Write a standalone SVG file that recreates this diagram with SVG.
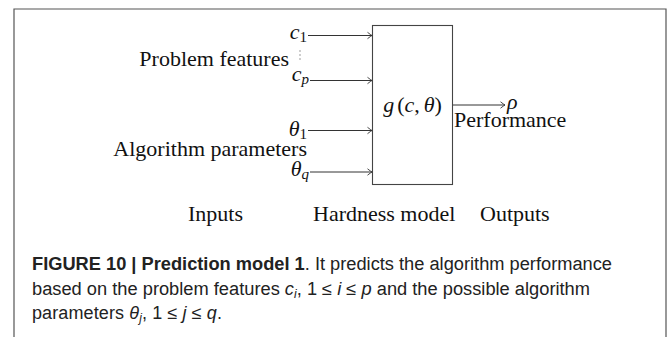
<svg xmlns="http://www.w3.org/2000/svg" width="668" height="337" viewBox="0 0 668 337">
<style>
.t{font-family:"Liberation Serif","Times New Roman",serif;font-size:22px;fill:#111}
.m{font-style:italic}
.s{font-size:15px}
.ln{stroke:#333;stroke-width:1;fill:none}
.cap{font-family:"Liberation Sans",Arial,Helvetica,sans-serif;font-size:18px;fill:#222}
</style>
<defs>
<marker id="ar" markerWidth="10" markerHeight="10" refX="0" refY="0" viewBox="-6 -5 8 10" orient="auto" markerUnits="userSpaceOnUse">
<path d="M-4.5,-3.2 Q-1.2,-0.6 0,0 Q-1.2,0.6 -4.5,3.2" fill="none" stroke="#333" stroke-width="0.9"/>
</marker>
</defs>
<path d="M14,337 V9 H666 V337" fill="none" stroke="#555" stroke-width="1.2"/>
<g id="connectors">
<line class="ln" x1="308" y1="35.5" x2="372" y2="35.5" marker-end="url(#ar)"/>
<line class="ln" x1="310" y1="80.5" x2="372" y2="80.5" marker-end="url(#ar)"/>
<line class="ln" x1="308" y1="130.5" x2="372" y2="130.5" marker-end="url(#ar)"/>
<line class="ln" x1="310" y1="172" x2="372" y2="172" marker-end="url(#ar)"/>
<line class="ln" x1="452.5" y1="105" x2="505" y2="105" marker-end="url(#ar)"/>
</g>
<g id="inputs">
<text class="t" x="307" y="39" text-anchor="end"><tspan class="m">c</tspan><tspan class="s" dy="3">1</tspan></text>
<g fill="#777"><circle cx="300" cy="51" r="0.7"/><circle cx="300" cy="55" r="0.7"/><circle cx="300" cy="59" r="0.7"/></g>
<text class="t" x="309" y="81" text-anchor="end"><tspan class="m">c</tspan><tspan class="s m" dy="3">p</tspan></text>
<text class="t" x="289" y="66" text-anchor="end">Problem features</text>
<text class="t" x="307" y="136" text-anchor="end"><tspan class="m">θ</tspan><tspan class="s" dy="3">1</tspan></text>
<text class="t" x="307" y="156" text-anchor="end">Algorithm parameters</text>
<text class="t" x="309" y="176" text-anchor="end"><tspan class="m">θ</tspan><tspan class="s m" dy="3">q</tspan></text>
</g>
<g id="model">
<rect x="372.5" y="25.5" width="80" height="159" fill="none" stroke="#444" stroke-width="1.1"/>
<text class="t" x="412.5" y="112" text-anchor="middle"><tspan class="m">g</tspan><tspan dx="3">(</tspan><tspan class="m">c</tspan>,<tspan class="m" dx="4">θ</tspan>)</text>
</g>
<g id="output">
<text class="t m" x="507" y="109">ρ</text>
<text class="t" x="454" y="127">Performance</text>
</g>
<g id="labels">
<text class="t" x="188" y="221">Inputs</text>
<text class="t" x="313" y="221">Hardness model</text>
<text class="t" x="480" y="221">Outputs</text>
</g>
<g id="caption">
<text class="cap" x="32" y="270" textLength="580" lengthAdjust="spacingAndGlyphs"><tspan font-weight="bold">FIGURE 10 | Prediction model 1</tspan>. It predicts the algorithm performance</text>
<text class="cap" x="32" y="295" textLength="558" lengthAdjust="spacingAndGlyphs">based on the problem features <tspan font-style="italic">c</tspan><tspan font-style="italic" font-size="12" dy="3">i</tspan><tspan dy="-3">, 1 ≤ </tspan><tspan font-style="italic">i</tspan> ≤ <tspan font-style="italic">p</tspan> and the possible algorithm</text>
<text class="cap" x="32" y="319" textLength="190" lengthAdjust="spacing">parameters <tspan font-style="italic">θ</tspan><tspan font-style="italic" font-size="12" dy="3">j</tspan><tspan dy="-3">, 1 ≤ </tspan><tspan font-style="italic">j</tspan> ≤ <tspan font-style="italic">q</tspan>.</text>
</g>
</svg>
